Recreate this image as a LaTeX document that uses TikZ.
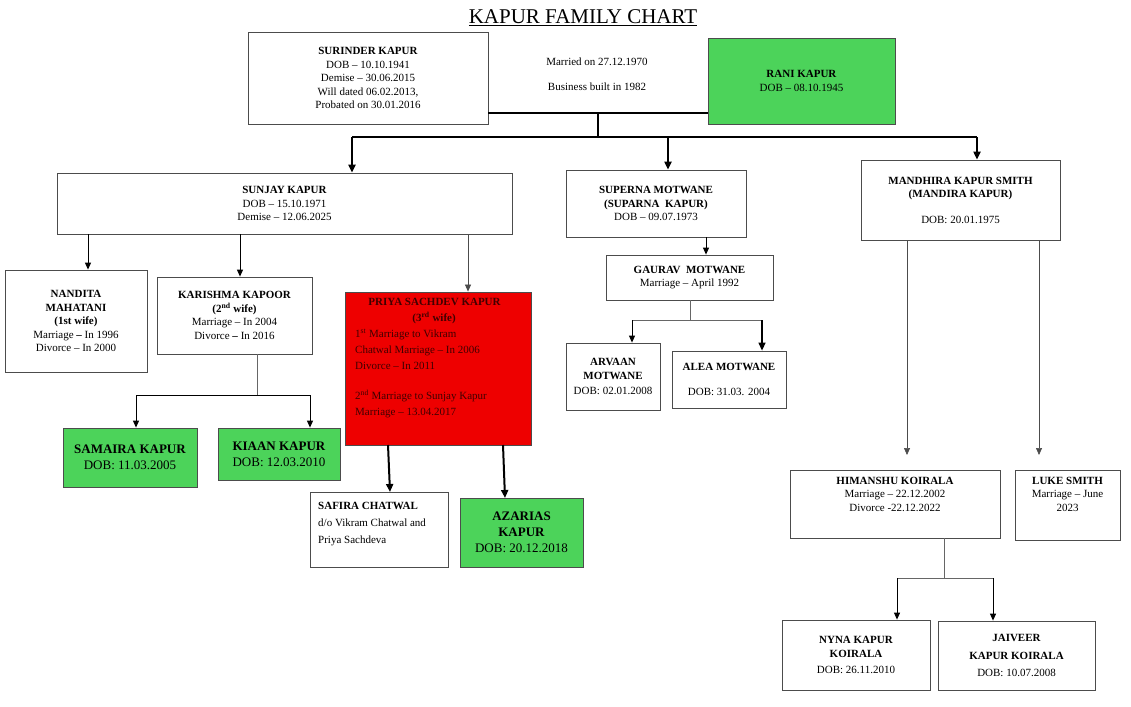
\documentclass[tikz,border=0pt]{standalone}
\usepackage{fontspec}
\setmainfont{Liberation Serif}
\usetikzlibrary{arrows.meta}
\begin{document}
\begin{tikzpicture}[x=1pt,y=-1pt,
  box/.style={draw=black!70,line width=0.8pt,fill=white,align=center,inner sep=2pt,font=\fontsize{11}{13.5}\selectfont},
  arr/.style={-{Triangle[length=7pt,width=6pt]},line width=1pt},
  tarr/.style={-{Triangle[length=8pt,width=7pt]},line width=2pt},
  thin/.style={draw=black!60,line width=0.7pt},
  tharr/.style={-{Triangle[length=7pt,width=6pt]},draw=black!70,line width=0.7pt}]
\definecolor{gfill}{HTML}{4CD35A}
\definecolor{rfill}{HTML}{EE0000}
\tikzset{gbox/.style={box,fill=gfill}}
\useasboundingbox (0,0) rectangle (1131,706);
\node[font=\fontsize{21}{23}\selectfont] (title) at (583,18) {\underline{KAPUR FAMILY CHART}};
\node[box,minimum width=240pt,minimum height=92pt] (sur) at (368,78) {\textbf{SURINDER KAPUR}\\DOB -- 10.10.1941\\Demise -- 30.06.2015\\Will dated 06.02.2013,\\Probated on 30.01.2016};
\node[font=\fontsize{11}{13}\selectfont,align=center] (mar) at (597,74) {Married on 27.12.1970\\[12pt]Business built in 1982};
\node[gbox,minimum width=187pt,minimum height=86pt] (rani) at (801.5,81) {\textbf{RANI KAPUR}\\DOB -- 08.10.1945};
\node[box,minimum width=455pt,minimum height=61pt] (sun) at (284.5,203.5) {\textbf{SUNJAY KAPUR}\\DOB -- 15.10.1971\\Demise -- 12.06.2025};
\node[box,minimum width=180pt,minimum height=67pt] (sup) at (656,203.5) {\textbf{SUPERNA MOTWANE}\\\textbf{(SUPARNA\ \ KAPUR)}\\DOB -- 09.07.1973};
\node[box,minimum width=199pt,minimum height=80pt] (man) at (960.5,200) {\textbf{MANDHIRA KAPUR SMITH}\\\textbf{(MANDIRA KAPUR)}\\[12pt]DOB: 20.01.1975};
\node[box,minimum width=167pt,minimum height=45pt] (gau) at (689.5,277.5) {\textbf{GAURAV\ \ MOTWANE}\\Marriage -- April 1992};
\node[box,minimum width=94pt,minimum height=67pt] (arv) at (613,376.5) {\textbf{ARVAAN}\\\textbf{MOTWANE}\\[2pt]DOB: 02.01.2008};
\node[box,minimum width=114pt,minimum height=57pt] (ale) at (729,379.5) {\textbf{ALEA MOTWANE}\\[12pt]DOB: 31.03. 2004};
\node[box,minimum width=142pt,minimum height=102pt] (nan) at (76,321) {\textbf{NANDITA}\\\textbf{MAHATANI}\\\textbf{(1st wife)}\\Marriage \textbf{--} In 1996\\Divorce -- In 2000};
\node[box,minimum width=155pt,minimum height=77pt] (kar) at (234.5,315.5) {\textbf{KARISHMA KAPOOR}\\\textbf{(2\textsuperscript{nd} wife)}\\Marriage -- In 2004\\Divorce \textbf{--} In 2016};
\node[gbox,minimum width=134pt,minimum height=59pt,font=\fontsize{13}{16}\selectfont] (sam) at (130,457.5) {\textbf{SAMAIRA KAPUR}\\DOB: 11.03.2005};
\node[gbox,minimum width=122pt,minimum height=52pt,font=\fontsize{13}{16}\selectfont] (kia) at (279,454) {\textbf{KIAAN KAPUR}\\DOB: 12.03.2010};
\node[box,fill=rfill,minimum width=186pt,minimum height=153pt] (pri) at (438,368.5) {};
\node[align=left,anchor=north west,inner sep=0pt,text=red!25!black,font=\fontsize{11}{16}\selectfont] (prit) at (355,298) {\hspace*{1.2em}\textbf{PRIYA SACHDEV KAPUR}\\\hspace*{5.2em}\textbf{(3\textsuperscript{rd} wife)}\\1\textsuperscript{st} Marriage to Vikram\\Chatwal Marriage -- In 2006\\Divorce -- In 2011\\[14pt]2\textsuperscript{nd} Marriage to Sunjay Kapur\\Marriage -- 13.04.2017};
\node[box,minimum width=138pt,minimum height=75pt] (saf) at (379,529.5) {};
\node[anchor=north west,align=left,font=\fontsize{11}{17}\selectfont,inner sep=0pt] (saft) at (318,502) {\textbf{SAFIRA CHATWAL}\\d/o Vikram Chatwal and\\Priya Sachdeva};
\node[gbox,minimum width=123pt,minimum height=69pt,font=\fontsize{13}{16}\selectfont] (aza) at (521.5,532.5) {\textbf{AZARIAS}\\\textbf{KAPUR}\\DOB: 20.12.2018};
\node[box,minimum width=210pt,minimum height=68pt] (him) at (895,504) {\textbf{HIMANSHU KOIRALA}\\Marriage -- 22.12.2002\\Divorce -22.12.2022\\[6pt]};
\node[box,minimum width=105pt,minimum height=70pt] (luk) at (1067.5,505) {\textbf{LUKE SMITH}\\Marriage -- June\\2023\\[8pt]};
\node[box,minimum width=148pt,minimum height=70pt] (nyn) at (856,655) {\textbf{NYNA KAPUR}\\\textbf{KOIRALA}\\[3pt]DOB:\ 26.11.2010};
\node[box,minimum width=157pt,minimum height=69pt] (jai) at (1016.5,655.5) {\textbf{JAIVEER}\\[4pt]\textbf{KAPUR KOIRALA}\\[4pt]DOB: 10.07.2008};
% parents
\coordinate (m) at (598,113);
\coordinate (bus) at (598,137);
\draw[line width=1.2pt] (sur.east|-m) -- (rani.west|-m);
\draw[line width=2pt] (m) -- (bus);
\coordinate (b1) at (352,137); \coordinate (b2) at (668,137); \coordinate (b3) at (977,137);
\draw[line width=2.5pt] (b1) -- (b3);
\draw[tarr] (b1) -- (b1|-sun.north);
\draw[tarr] (b2) -- (b2|-sup.north);
\draw[tarr] (b3) -- (b3|-man.north);
% sunjay
\coordinate (s1) at (88,234); \coordinate (s2) at (240,234); \coordinate (s3) at (468,234);
\draw[arr] (s1) -- (s1|-nan.north);
\draw[arr] (s2) -- (s2|-kar.north);
\draw[tharr] (s3) -- (s3|-pri.north);
% karishma
\coordinate (k0) at (257,354); \coordinate (k1) at (257,395);
\coordinate (kl) at (136,395); \coordinate (kr) at (310,395);
\draw[thin] (k0) -- (k1);
\draw[line width=1pt] (kl) -- (kr);
\draw[arr] (kl) -- (kl|-sam.north);
\draw[arr] (kr) -- (kr|-kia.north);
% priya
\coordinate (p1) at (388,445); \coordinate (p2) at (503,445);
\draw[tarr] (p1) -- (390,492);
\draw[tarr] (p2) -- (505,498);
% superna
\coordinate (u1) at (706,237);
\draw[arr] (u1) -- (u1|-gau.north);
\coordinate (g0) at (690,300); \coordinate (g1) at (690,320);
\coordinate (gl) at (632,320); \coordinate (gr) at (762,320);
\draw[thin] (g0) -- (g1); \draw[thin] (gl) -- (gr);
\draw[arr] (gl) -- (gl|-arv.north);
\draw[tarr,line width=1.3pt] (gr) -- (gr|-ale.north);
% mandhira
\coordinate (h1) at (907,240); \coordinate (h2) at (1039,240);
\draw[tharr] (h1) -- (907,455);
\draw[tharr] (h2) -- (1039,455);
% himanshu
\coordinate (i0) at (944,538); \coordinate (i1) at (944,578);
\coordinate (il) at (897,578); \coordinate (ir) at (993,578);
\draw[thin] (i0) -- (i1); \draw[thin] (il) -- (ir);
\draw[arr] (il) -- (il|-nyn.north);
\draw[arr] (ir) -- (ir|-jai.north);
\end{tikzpicture}
\end{document}
